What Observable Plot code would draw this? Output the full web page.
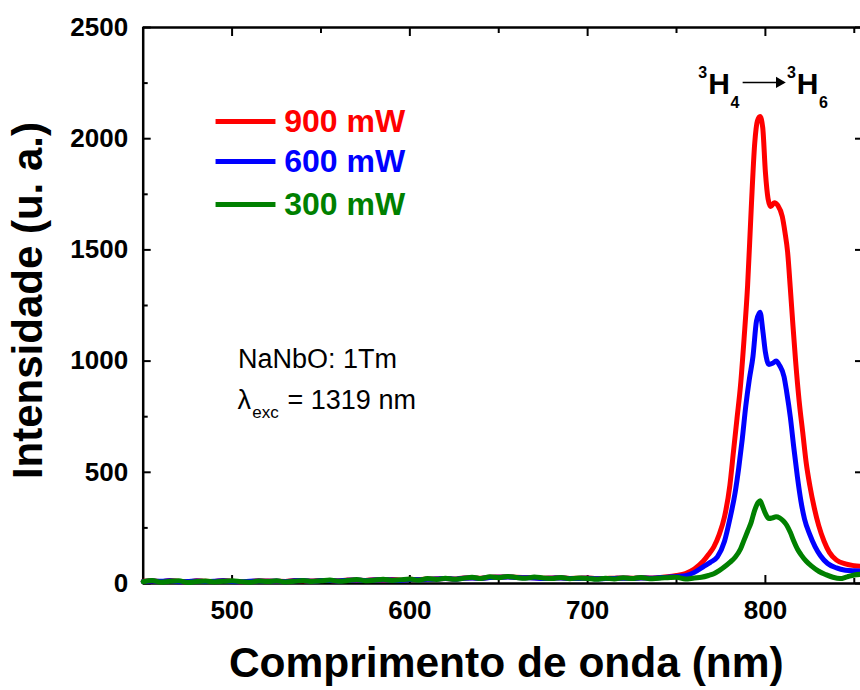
<!DOCTYPE html>
<html>
<head>
<meta charset="utf-8">
<script src="https://cdn.jsdelivr.net/npm/d3@7"></script>
<script src="https://cdn.jsdelivr.net/npm/@observablehq/plot@0.6"></script>
<style>
  html, body { margin: 0; padding: 0; background: #fff; }
</style>
</head>
<body>
<div id="chart"></div>
<script>
// Baseline wavelengths (nm)
const baseWl = [450,455,460,465,470,475,480,485,490,495,500,505,510,515,520,525,530,535,540,545,550,555,560,565,570,575,580,585,590,595,600,605,610,615,620,625,630,635,640,645,650,655,660,665,670,675,680,685,690,695,700,705,710,715,720,725,730,735,740,745,750];
const base900 = [10,12,8,13,9,7,12,10,9,13,10,7,9,12,11,10,9,13,12,11,14,13,12,16,15,14,17,16,18,15,19,18,20,21,22,20,25,26,24,28,29,30,28,27,26,24,25,26,23,24,25,22,23,24,25,24,26,25,27,30,36];
const base600 = [9,11,10,12,8,9,11,9,10,12,9,8,10,11,10,11,8,12,13,10,13,14,11,15,16,13,16,17,16,14,18,17,19,20,23,19,24,25,23,27,28,29,27,26,25,23,24,25,22,23,24,21,22,23,24,23,25,24,26,28,32];
const base300 = [8,14,6,10,12,5,9,11,7,10,12,8,6,11,9,12,7,10,14,9,12,16,10,13,18,12,15,19,14,17,20,15,22,18,24,19,23,28,22,30,26,32,27,24,29,25,22,27,21,25,23,19,24,20,26,22,27,21,24,26,28];

// Emission band region
const peakWl900 = [755,760,765,768,771,774,777,780,782,784,786,788,790,792,794,795.5,797,798.5,800,801.5,803,805,807,809.5,811,812.5,814,815.5,817,819,821,823,825,827.5,830,833,836,840,845,850,855];
const peak900   = [45,65,100,130,165,220,300,440,590,740,890,1100,1340,1680,1980,2080,2100,2050,1850,1730,1695,1712,1700,1650,1580,1490,1330,1160,1000,820,680,540,440,340,260,190,140,105,88,80,76];
const peakWl600 = [755,760,765,769,773,777,780,783,785,787,789,791,793,795,797,798.5,800,802,804,806,808,810.5,812,814,816,818,820,822,825,828,831,835,840,845,850,855];
const peak600   = [35,50,75,95,120,190,290,410,520,650,800,920,1020,1180,1220,1140,1040,985,990,1000,980,930,860,750,610,480,370,290,220,165,125,90,70,60,57,56];
const peakWl300 = [755,760,764,768,771,774,777,780,783,786,788,790,792,794,796,797,798.5,800,802,804,806,808,810,812,814,816,818,820,823,826,830,834,838,842,846,850,855];
const peak300   = [20,25,28,36,44,58,75,95,118,155,195,235,275,330,365,372,345,315,292,295,300,295,282,262,230,190,155,130,100,78,55,40,28,22,30,38,42];

const seriesNames = ["900 mW", "600 mW", "300 mW"];
const seriesColors = ["#ff0000", "#0000ff", "#008000"];

const xMajor = [500, 600, 700, 800];
const xMinor = [550, 650, 750, 850];
const yMajor = [0, 500, 1000, 1500, 2000, 2500];
const yMinor = [250, 750, 1250, 1750, 2250];

function rows(name, bw, bv, pw, pv) {
  const r = [];
  bw.forEach((w, i) => r.push({series: name, wl: w, v: bv[i]}));
  pw.forEach((w, i) => r.push({series: name, wl: w, v: pv[i]}));
  return r;
}
const data = [
  rows("900 mW", baseWl, base900, peakWl900, peak900),
  rows("600 mW", baseWl, base600, peakWl600, peak600),
  rows("300 mW", baseWl, base300, peakWl300, peak300)
];

const legendY = [2077, 1897, 1704];
const FONT = "Liberation Sans, Arial, Helvetica, sans-serif";
const noLabel = () => "";

const marks = [];
// frame lines (left, bottom, top)
marks.push(Plot.ruleX([450], {strokeWidth: 2.5}));
marks.push(Plot.ruleY([0, 2500], {strokeWidth: 2.5}));

// axes
marks.push(Plot.axisX({anchor: "bottom", ticks: xMajor, tickSize: -8, tickPadding: 25, tickFormat: d3.format("d"), fontSize: 26, fontWeight: "bold", strokeWidth: 2, label: null}));
marks.push(Plot.axisX({anchor: "bottom", ticks: xMinor, tickSize: -5, tickFormat: noLabel, strokeWidth: 2, label: null}));
marks.push(Plot.axisX({anchor: "top", ticks: xMajor, tickSize: -8, tickFormat: noLabel, strokeWidth: 2, label: null}));
marks.push(Plot.axisX({anchor: "top", ticks: xMinor, tickSize: -5, tickFormat: noLabel, strokeWidth: 2, label: null}));
marks.push(Plot.axisY({anchor: "left", ticks: yMajor, tickSize: -8, tickPadding: 23, tickFormat: d3.format("d"), fontSize: 26, fontWeight: "bold", strokeWidth: 2, label: null}));
marks.push(Plot.axisY({anchor: "left", ticks: yMinor, tickSize: -5, tickFormat: noLabel, strokeWidth: 2, label: null}));
marks.push(Plot.axisY({anchor: "right", ticks: yMajor, tickSize: -6, tickFormat: noLabel, strokeWidth: 2, label: null}));

// curves
data.forEach((d, i) => {
  marks.push(Plot.line(d, {x: "wl", y: "v", stroke: seriesColors[i], strokeWidth: 5, curve: "monotone-x", strokeLinejoin: "round"}));
});

// legend
seriesNames.forEach((n, i) => {
  marks.push(Plot.link([n], {x1: 490.7, x2: 524.4, y1: legendY[i], y2: legendY[i], stroke: seriesColors[i], strokeWidth: 5}));
  marks.push(Plot.text([n], {x: 529.3, y: legendY[i], text: d => d, fill: seriesColors[i], fontSize: 32, fontWeight: "bold", textAnchor: "start", lineAnchor: "middle"}));
});

// sample annotation
marks.push(Plot.text(["NaNbO: 1Tm"], {x: 503.3, y: 1010, text: d => d, fontSize: 27, fontWeight: "normal", textAnchor: "start"}));
marks.push(Plot.text(["λ"], {x: 503.1, y: 825, text: d => d, fontSize: 27, fontWeight: "normal", textAnchor: "start"}));
marks.push(Plot.text(["exc"], {x: 511.3, y: 768, text: d => d, fontSize: 17, fontWeight: "normal", textAnchor: "start"}));
marks.push(Plot.text(["= 1319 nm"], {x: 531.2, y: 825, text: d => d, fontSize: 27, fontWeight: "normal", textAnchor: "start"}));

// transition annotation
marks.push(Plot.text(["3"], {x: 762.3, y: 2297, text: d => d, fontSize: 16, fontWeight: "bold", textAnchor: "start"}));
marks.push(Plot.text(["H"], {x: 767.8, y: 2245, text: d => d, fontSize: 30, fontWeight: "bold", textAnchor: "start"}));
marks.push(Plot.text(["4"], {x: 780.4, y: 2163, text: d => d, fontSize: 16, fontWeight: "bold", textAnchor: "start"}));
marks.push(Plot.link([0], {x1: 787.2, x2: 806, y1: 2253, y2: 2253, stroke: "black", strokeWidth: 1.5}));
marks.push(Plot.dot([0], {x: 807.8, y: 2253, symbol: "triangle", rotate: 90, r: 4.2, fill: "black", stroke: "none"}));
marks.push(Plot.text(["3"], {x: 812.2, y: 2297, text: d => d, fontSize: 16, fontWeight: "bold", textAnchor: "start"}));
marks.push(Plot.text(["H"], {x: 817.6, y: 2245, text: d => d, fontSize: 30, fontWeight: "bold", textAnchor: "start"}));
marks.push(Plot.text(["6"], {x: 830.2, y: 2163, text: d => d, fontSize: 16, fontWeight: "bold", textAnchor: "start"}));

// axis titles
marks.push(Plot.text(["Comprimento de onda (nm)"], {frameAnchor: "bottom", dx: 4.5, dy: 93, text: d => d, fontSize: 42.5, fontWeight: "bold"}));
marks.push(Plot.text(["Intensidade (u. a.)"], {x: 385.5, y: 1272, rotate: -90, text: d => d, fontSize: 42, fontWeight: "bold"}));

const chart = Plot.plot({
  width: 860,
  height: 690,
  marginLeft: 142.7,
  marginRight: 0,
  marginTop: 27,
  marginBottom: 107,
  style: {fontFamily: FONT, color: "black", background: "white", overflow: "hidden"},
  x: {domain: [450, 853.5]},
  y: {domain: [0, 2500]},
  marks
});
document.getElementById("chart").appendChild(chart);
</script>
</body>
</html>
